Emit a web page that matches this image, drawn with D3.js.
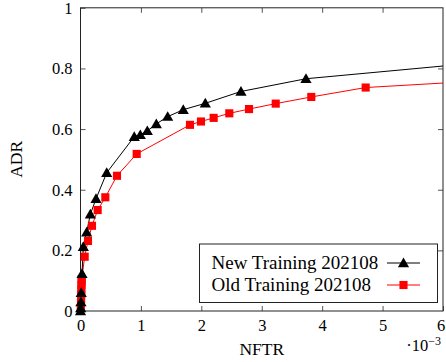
<!DOCTYPE html>
<html><head><meta charset="utf-8">
<script src="https://cdn.jsdelivr.net/npm/d3@7/dist/d3.min.js"></script>
<style>body{margin:0;background:#fff}</style>
</head><body><svg id="c" width="446" height="362"></svg>
<script>
// NFTR in units of 1e-3, ADR
const newX = [0, 0.003, 0.008, 0.012, 0.025, 0.047, 0.102, 0.163, 0.257, 0.434, 0.890, 0.990, 1.106, 1.255, 1.443, 1.701, 2.066, 2.656, 3.732, 8.0];
const newY = [0, 0.01, 0.03, 0.06, 0.123, 0.212, 0.260, 0.319, 0.370, 0.456, 0.575, 0.581, 0.594, 0.617, 0.641, 0.664, 0.685, 0.724, 0.766, 0.845];
const oldX = [0.005, 0.008, 0.01, 0.012, 0.014, 0.016, 0.018, 0.02, 0.069, 0.124, 0.190, 0.284, 0.411, 0.604, 0.930, 1.812, 1.994, 2.204, 2.463, 2.789, 3.231, 3.820, 4.720, 8.0];
const oldY = [0.01, 0.025, 0.04, 0.055, 0.07, 0.085, 0.095, 0.105, 0.179, 0.231, 0.281, 0.333, 0.375, 0.446, 0.518, 0.614, 0.625, 0.637, 0.652, 0.666, 0.684, 0.706, 0.737, 0.775];
const xTicks = [0, 1, 2, 3, 4, 5, 6];
const yTicks = [0, 0.2, 0.4, 0.6, 0.8, 1];
const legendLabels = ["New Training 202108", "Old Training 202108"];

const FONT = "Liberation Serif";
const svg = d3.select("#c");
const L = 80.5, R = 443, T = 7.8, B = 311;
const x = d3.scaleLinear().domain([0, 6]).range([L, R]);
const y = d3.scaleLinear().domain([0, 1]).range([B, T]);

svg.append("clipPath").attr("id", "clip").append("rect")
  .attr("x", L).attr("y", T).attr("width", R - L).attr("height", B - T);

const fmtY = d => d === 0 ? "0" : d === 1 ? "1" : d3.format(".1f")(d);
const tl = 5;
const styleAxis = g => {
  g.attr("font-family", FONT);
  g.select(".domain").remove();
  g.selectAll("text").attr("font-family", FONT).style("font-family", FONT).attr("font-size", 16.5).attr("fill", "#000");
  g.selectAll("line").attr("stroke", "#555");
};
svg.append("g").attr("transform", `translate(0,${B})`)
  .call(d3.axisBottom(x).tickValues(xTicks).tickSize(-tl).tickPadding(8).tickFormat(d3.format("d")))
  .call(styleAxis)
  .call(g => g.selectAll(".tick text").filter(d => d === 6).attr("dx", -2.5));
svg.append("g").attr("transform", `translate(0,${T})`)
  .call(d3.axisTop(x).tickValues(xTicks.slice(1, -1)).tickSize(-tl).tickFormat(""))
  .call(styleAxis);
svg.append("g").attr("transform", `translate(${L},0)`)
  .call(d3.axisLeft(y).tickValues(yTicks).tickSize(-tl).tickPadding(8).tickFormat(fmtY))
  .call(styleAxis);
svg.append("g").attr("transform", `translate(${R},0)`)
  .call(d3.axisRight(y).tickValues(yTicks.slice(1, -1)).tickSize(-tl).tickFormat(""))
  .call(styleAxis);

svg.append("rect").attr("x", L).attr("y", T).attr("width", R - L).attr("height", B - T)
  .attr("fill", "none").attr("stroke", "#222").attr("stroke-width", 1);

const newData = newX.map((d, i) => [d, newY[i]]);
const oldData = oldX.map((d, i) => [d, oldY[i]]);
const line = d3.line().x(d => x(d[0])).y(d => y(d[1]));
const tri = d3.symbol().type(d3.symbolTriangle).size(54);
const sq = d3.symbol().type(d3.symbolSquare).size(66);

const lines = svg.append("g").attr("clip-path", "url(#clip)");
lines.append("path").datum(oldData).attr("d", line).attr("fill", "none").attr("stroke", "#f00").attr("stroke-width", 1);
lines.append("path").datum(newData).attr("d", line).attr("fill", "none").attr("stroke", "#000").attr("stroke-width", 1);

svg.append("g").selectAll("path").data(oldData.filter(d => d[0] <= 6)).join("path")
  .attr("d", sq).attr("fill", "#f00").attr("transform", d => `translate(${x(d[0])},${y(d[1])})`);
svg.append("g").selectAll("path").data(newData.filter(d => d[0] <= 6)).join("path")
  .attr("d", tri).attr("fill", "#000").attr("transform", d => `translate(${x(d[0])},${y(d[1]) + 1})`);

const txt = (sel) => sel.append("text").attr("font-family", FONT).style("font-family", FONT).attr("fill", "#000");
// axis labels
txt(svg).attr("x", (L + R) / 2).attr("y", 355).attr("text-anchor", "middle").attr("font-size", 17.5).text("NFTR");
txt(svg).attr("transform", `translate(22,${(T + B) / 2}) rotate(-90)`).attr("text-anchor", "middle").attr("font-size", 17.5).text("ADR");
const sc = txt(svg).attr("x", 441).attr("y", 351).attr("text-anchor", "end").attr("font-size", 16.5);
sc.append("tspan").text("·10");
sc.append("tspan").attr("dy", -6).attr("font-size", 12).text("−3");

// legend
const lg = svg.append("g");
lg.append("rect").attr("x", 199.5).attr("y", 244).attr("width", 238).attr("height", 58.5)
  .attr("fill", "#fff").attr("stroke", "#222").attr("stroke-width", 1);
const rows = [{ c: "#000", s: tri, y: 263, w: 168 }, { c: "#f00", s: sq, y: 285, w: 161 }];
rows.forEach((r, i) => {
  const t = txt(lg).attr("x", 211.5).attr("y", r.y + 5.5).attr("font-size", 17).text(legendLabels[i]);
  const len = t.node().getComputedTextLength();
  if (len > 0) t.attr("font-size", Math.min(19, 17 * r.w / len));
  lg.append("line").attr("x1", 387).attr("x2", 420).attr("y1", r.y).attr("y2", r.y).attr("stroke", r.c);
  lg.append("path").attr("d", r.s).attr("fill", r.c).attr("transform", `translate(403.5,${r.y + (i === 0 ? 1 : 0)})`);
});
</script></body></html>
